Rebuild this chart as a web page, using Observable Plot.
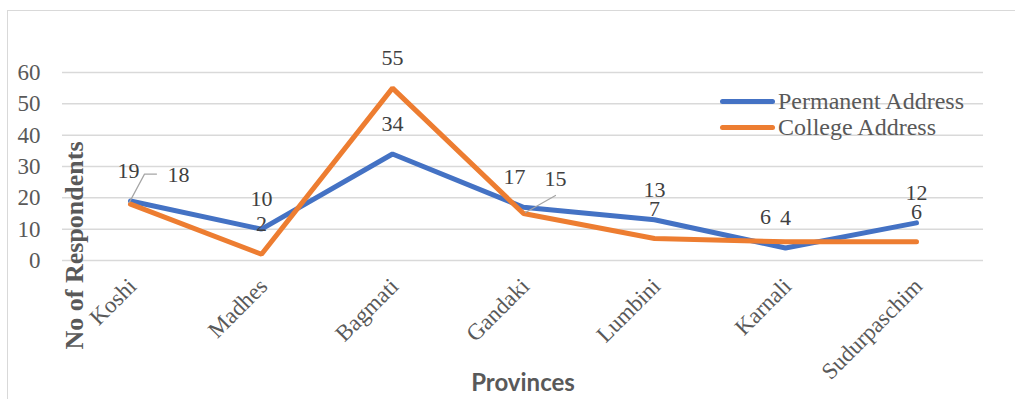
<!DOCTYPE html>
<html>
<head>
<meta charset="utf-8">
<script src="https://cdn.jsdelivr.net/npm/d3@7"></script>
<script src="https://cdn.jsdelivr.net/npm/@observablehq/plot@0.6"></script>
<style>
  body { margin: 0; background: #fff; overflow: hidden; }
  #chart { position: relative; width: 1015px; height: 399px; overflow: hidden; background: #fff; }
  .frame { position: absolute; left: 7px; top: 10px; width: 2000px; height: 2000px;
           border-left: 1.5px solid #d9d9d9; border-top: 1.5px solid #d9d9d9; }
  #plot { position: absolute; left: 0; top: 0; }
  .legend { position: absolute; left: 720px; top: 88px; font-family: "Liberation Serif", serif; font-size: 24px; color: #595959; }
  .legend .item { display: flex; align-items: center; height: 26px; white-space: nowrap; }
  .legend .swatch { width: 55px; height: 5px; border-radius: 3px; margin-right: 3px; }
</style>
</head>
<body>
<div id="chart">
  <div class="frame"></div>
  <div id="plot"></div>
  <div class="legend" id="legend"></div>
</div>
<script>
const provinces = ["Koshi", "Madhes", "Bagmati", "Gandaki", "Lumbini", "Karnali", "Sudurpaschim"];
const permanentAddress = [19, 10, 34, 17, 13, 4, 12];
const collegeAddress = [18, 2, 55, 15, 7, 6, 6];
const seriesNames = ["Permanent Address", "College Address"];
const seriesColors = ["#4472C4", "#ED7D31"];
const yTicks = [0, 10, 20, 30, 40, 50, 60];

const serif = "Liberation Serif";

const rows = [];
[permanentAddress, collegeAddress].forEach((vals, s) =>
  vals.forEach((v, i) => rows.push({series: seriesNames[s], province: provinces[i], value: v}))
);

// Label offsets in pixels; labels that would collide are pushed aside
const defaultOffset = [0, -30];
const labelOffsets = new Map([
  ["Permanent Address|Koshi", [-2, -30]],
  ["College Address|Koshi", [48, -29]],
  ["Permanent Address|Gandaki", [-9, -30]],
  ["College Address|Gandaki", [32, -35]],
  ["College Address|Karnali", [-20, -25]]
]);
const offsetOf = r => labelOffsets.get(r.series + "|" + r.province) ?? defaultOffset;
const labelGroups = d3.groups(rows, r => offsetOf(r).join(","));

const labelMarks = labelGroups.map(([key, group]) => {
  const [dx, dy] = key.split(",").map(Number);
  return Plot.text(group, {
    x: "province", y: "value", text: d => String(d.value),
    dx, dy, fontSize: 22, fontFamily: serif, fill: "#404040"
  });
});

// Leader lines joining displaced labels to their points
const leader = (points) => ({
  draw(context) {
    context.moveTo(points[0][0], points[0][1]);
    for (const [px, py] of points.slice(1)) context.lineTo(px, py);
  }
});
const find = (s, p) => rows.filter(r => r.series === s && r.province === p);
const leaderMarks = [
  Plot.vector(find("College Address", "Koshi"), {
    x: "province", y: "value", length: 1, rotate: 0, anchor: "start",
    stroke: "#a5a5a5", strokeWidth: 1.2, shape: leader([[-1, -2], [14, -30], [26, -30]])
  }),
  Plot.vector(find("College Address", "Gandaki"), {
    x: "province", y: "value", length: 1, rotate: 0, anchor: "start",
    stroke: "#a5a5a5", strokeWidth: 1.2, shape: leader([[2, -1], [32, -18]])
  })
];

const chart = Plot.plot({
  width: 1015,
  height: 399,
  marginLeft: 62,
  marginRight: 32,
  marginTop: 72,
  marginBottom: 139,
  style: {fontFamily: serif, color: "#595959", background: "transparent"},
  x: {type: "point", domain: provinces, padding: 0.5, align: 0.5, axis: null},
  y: {domain: [0, 60], axis: null},
  color: {domain: seriesNames, range: seriesColors},
  marks: [
    Plot.gridY(yTicks, {stroke: "#d9d9d9", strokeOpacity: 1, strokeWidth: 1.5}),
    Plot.axisY(yTicks, {
      tickSize: 0, tickPadding: 22, fontSize: 23, fontFamily: serif,
      fill: "#595959", label: null
    }),
    Plot.text(provinces, {
      x: d => d, frameAnchor: "bottom", rotate: -45, textAnchor: "end", lineAnchor: "middle",
      dx: 2, dy: 22, fontSize: 23, fontFamily: serif, fill: "#595959"
    }),
    Plot.text(["No of Respondents"], {
      frameAnchor: "left", rotate: -90, textAnchor: "middle", lineAnchor: "middle",
      dx: 12, dy: 79, fontSize: 26, fontFamily: serif, fontWeight: "bold", fill: "#595959"
    }),
    Plot.text(["Provinces"], {
      frameAnchor: "bottom", textAnchor: "middle", lineAnchor: "middle", dy: 123,
      fontFamily: "Lato", fontSize: 24, fontWeight: "bold", fill: "#595959"
    }),
    Plot.lineY(rows, {
      x: "province", y: "value", z: "series", stroke: "series",
      strokeWidth: 5, strokeLinejoin: "miter", strokeLinecap: "round"
    }),
    ...leaderMarks,
    ...labelMarks
  ]
});
document.getElementById("plot").appendChild(chart);

const legend = document.getElementById("legend");
seriesNames.forEach((name, i) => {
  const item = document.createElement("div");
  item.className = "item";
  const sw = document.createElement("span");
  sw.className = "swatch";
  sw.style.background = seriesColors[i];
  const label = document.createElement("span");
  label.textContent = name;
  item.append(sw, label);
  legend.appendChild(item);
});
</script>
</body>
</html>
